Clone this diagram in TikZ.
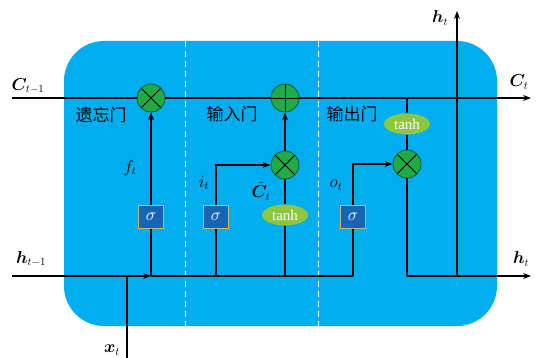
\documentclass[tikz,border=0pt]{standalone}
\usepackage{fontspec}
\usepackage{amsmath}
\usepackage{bm}
\usepackage{tikz}
\usetikzlibrary{
    arrows.meta,
    positioning,
    shapes.geometric,
    calc
}
\usepackage{xcolor}
\setmainfont{Liberation Serif}
\newfontfamily\cjk{Noto Sans CJK SC}
\definecolor{cellblue}{RGB}{0,174,239}
\definecolor{gategreen}{RGB}{34,170,72}
\definecolor{gateedge}{RGB}{20,90,40}
\definecolor{sigblue}{RGB}{22,100,180}
\definecolor{sigedge}{RGB}{190,190,110}
\definecolor{tanhgreen}{RGB}{141,198,63}

\begin{document}
\begin{tikzpicture}[
    x=1pt, y=-1pt,
    line width=1.2pt,
    mult/.style={circle, draw=gateedge, line width=0.8pt, fill=gategreen, minimum size=28pt, inner sep=0pt,
        path picture={\draw[line width=0.9pt, black] (path picture bounding box.north west) -- (path picture bounding box.south east)
            (path picture bounding box.north east) -- (path picture bounding box.south west);}},
    add/.style={circle, draw=gateedge, line width=0.8pt, fill=gategreen, minimum size=28pt, inner sep=0pt,
        path picture={\draw[line width=0.9pt, black] (path picture bounding box.north) -- (path picture bounding box.south)
            (path picture bounding box.west) -- (path picture bounding box.east);}},
    sig/.style={rectangle, draw=sigedge, line width=0.8pt, fill=sigblue, minimum width=25pt, minimum height=23pt, inner sep=0pt, text=white, font=\fontsize{16}{18}\selectfont},
    act/.style={ellipse, fill=tanhgreen, minimum width=46pt, minimum height=21pt, inner sep=0pt, text=white, font=\fontsize{15}{17}\selectfont},
    arrow/.style={-{Stealth[length=8pt, width=6pt]}},
    divider/.style={white, dashed, line width=1pt, dash pattern=on 6pt off 4pt},
    lbl/.style={font=\fontsize{16}{18}\selectfont, inner sep=0pt},
    gatename/.style={font=\cjk\fontsize{17}{19}\selectfont, inner sep=0pt}
]
\useasboundingbox (0,0) rectangle (543,358);

% cell body
\fill[cellblue, rounded corners=40pt] (64,41) rectangle (497,326);
\draw[divider] (185,41) -- (185,326);
\draw[divider] (318,41) -- (318,326);

% end points
\coordinate (cin) at (12,98);
\coordinate (cout) at (531,98);
\coordinate (hin) at (12,276);
\coordinate (hout) at (531,276);
\coordinate (xin) at (127,358);
\coordinate (htop) at (457,11);

% forget gate
\node[mult] (fmul) at (151,98) {};
\node[sig] (fsig) at (151,217) {$\sigma$};

% input gate
\node[add] (cadd) at (285,98) {};
\node[mult] (imul) at (285,165) {};
\node[sig] (isig) at (216,217) {$\sigma$};
\node[act] (itanh) at (285,215) {tanh};

% output gate
\node[act] (otanh) at (407,124) {tanh};
\node[mult] (omul) at (407,164) {};
\node[sig] (osig) at (353,217) {$\sigma$};

% cell state
\draw (cin) -- (fmul);
\draw (fmul) -- (cadd);
\draw[arrow] (cadd) -- (cout);
\draw (otanh |- cadd) -- (otanh);

% hidden state and input
\draw[arrow] (hin) -- (fsig |- hin);
\draw (fsig |- hin) -- (osig |- hin);
\draw (xin) -- (xin |- hin);
\draw (fsig |- hin) -- (fsig);
\draw (isig |- hin) -- (isig);
\draw (itanh |- hin) -- (itanh);
\draw (osig |- hin) -- (osig);

% gates
\draw[arrow] (fsig) -- (fmul);
\draw[arrow] (isig) |- (imul);
\draw (itanh) -- (imul);
\draw[arrow] (imul) -- (cadd);
\draw[arrow] (osig) |- (omul);
\draw (otanh) -- (omul);
\draw (omul) -- (omul |- hout);
\draw[arrow] (omul |- hout) -- (hout);
\draw[arrow] (htop |- hout) -- (htop);

% labels
\node[lbl] (cprev) at (28,86) {$\bm{C}_{t-1}$};
\node[lbl] (cnext) at (519,82) {$\bm{C}_t$};
\node[lbl] (hprev) at (31,259) {$\bm{h}_{t-1}$};
\node[lbl] (hnext) at (521,259) {$\bm{h}_t$};
\node[lbl] (hup) at (440,18) {$\bm{h}_t$};
\node[lbl] (xlbl) at (112,350) {$\bm{x}_t$};
\node[lbl] (flbl) at (130,168) {$f_t$};
\node[lbl] (ilbl) at (204,183) {$i_t$};
\node[lbl] (cand) at (261,191) {$\tilde{\bm{C}}_t$};
\node[lbl] (olbl) at (336,185) {$o_t$};
\node[gatename] (forget) at (101,115) {遗忘门};
\node[gatename] (input) at (232,114) {输入门};
\node[gatename] (output) at (352,114) {输出门};

\end{tikzpicture}
\end{document}
